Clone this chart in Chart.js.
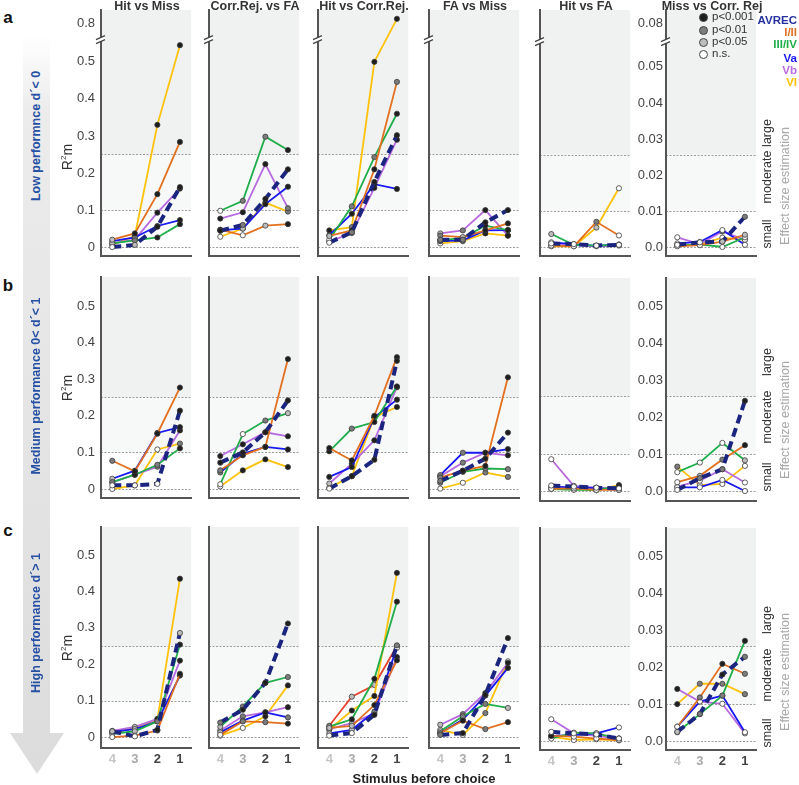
<!DOCTYPE html>
<html lang="en">
<head>
  <meta charset="UTF-8" />
  <title>R2m before choice by performance</title>
  <script src="https://cdn.jsdelivr.net/npm/chart.js"></script>
  <style>
    body { margin: 0; background: #fff; font-family: 'Liberation Sans', Arial, sans-serif; color: #333; }
    #fig { position: relative; width: 799px; height: 785px; overflow: hidden; }
    #fig canvas { position: absolute; }
    .lbl { position: absolute; white-space: nowrap; line-height: 1; }
  </style>
</head>
<body>
  <div id="fig">
    <svg width="70" height="785" style="position:absolute;left:0;top:0">
      <defs>
        <linearGradient id="arrowFill" x1="0" y1="0" x2="0" y2="1">
          <stop offset="0" stop-color="#ffffff" />
          <stop offset="0.1" stop-color="#ececec" />
          <stop offset="1" stop-color="#dcdcdc" />
        </linearGradient>
      </defs>
      <path d="M23 35 H50 V733 H64 L37 774 L10 733 H23 Z" fill="url(#arrowFill)" />
    </svg>
  </div>

  <script>
    // ---- data ----
    const stimuli = ['4', '3', '2', '1'];
    const stimulusColors = ['#c6c6c6', '#a9a9a9', '#444444', '#444444'];
    const seriesNames = ['AVREC', 'I/II', 'III/IV', 'Va', 'Vb', 'VI', 'I/II'];
    const seriesColors = ['#1b2580', '#e2701f', '#1fae4a', '#1818f0', '#b86ae0', '#ffc20a', '#e8432b'];
    const panelTitles = ['Hit vs Miss', 'Corr.Rej. vs FA', 'Hit vs Corr.Rej.', 'FA vs Miss', 'Hit vs FA', 'Miss vs Corr. Rej'];
    const rowLetters = ['a', 'b', 'c'];
    const rowNames = ['Low performnce d\u00b4< 0', 'Medium performance 0< d\u00b4< 1', 'High performance d\u00b4> 1'];
    const leftTicks = [0, 0.1, 0.2, 0.3, 0.4, 0.5];
    const rightTicks = [0, 0.01, 0.02, 0.03, 0.04, 0.05];
    const leftTopTick = 0.8;
    const rightTopTick = 0.08;
    const leftThresholds = [0, 0.1, 0.25];
    const rightThresholds = [0, 0.01, 0.0256];
    const pLabels = ['p<0.001', 'p<0.01', 'p<0.05', 'n.s.'];
    const pFills = ['#1e1e1e', '#7c7c7c', '#bdbdbd', '#ffffff'];

    // values: rows = AVREC, I/II, III/IV, Va, Vb, VI ; columns = stimulus 4,3,2,1
    // p codes: 0 p<0.001, 1 p<0.01, 2 p<0.05, 3 n.s.

    // a: low performance
    const lowHitMiss = [[0.0, 0.006, 0.055, 0.162], [0.02, 0.037, 0.143, 0.284], [0.01, 0.018, 0.026, 0.062],
      [0.016, 0.026, 0.057, 0.073], [0.01, 0.02, 0.093, 0.158], [0.006, 0.03, 0.33, 0.545]];
    const lowHitMissP = [[3, 2, 0, 0], [2, 0, 0, 0], [2, 1, 0, 0], [2, 1, 0, 0], [3, 1, 0, 0], [3, 0, 0, 0]];
    const lowCrFa = [[0.044, 0.06, 0.13, 0.21], [0.047, 0.032, 0.058, 0.062], [0.098, 0.125, 0.298, 0.262],
      [0.046, 0.05, 0.116, 0.163], [0.077, 0.094, 0.224, 0.105], [0.028, 0.05, 0.12, 0.096]];
    const lowCrFaP = [[0, 1, 0, 0], [0, 3, 2, 0], [3, 1, 1, 0], [1, 2, 0, 0], [0, 0, 0, 1], [3, 0, 0, 1]];
    const lowHitCr = [[0.012, 0.04, 0.176, 0.302], [0.03, 0.045, 0.21, 0.446], [0.02, 0.11, 0.243, 0.36],
      [0.032, 0.09, 0.17, 0.157], [0.015, 0.038, 0.16, 0.29], [0.045, 0.054, 0.50, 0.86]];
    const lowHitCrP = [[3, 1, 0, 0], [2, 0, 0, 1], [3, 1, 1, 0], [1, 0, 0, 0], [3, 1, 0, 0], [0, 1, 0, 0]];
    const lowFaMiss = [[0.02, 0.02, 0.067, 0.10], [0.031, 0.027, 0.045, 0.064], [0.018, 0.025, 0.058, 0.046],
      [0.016, 0.018, 0.045, 0.046], [0.037, 0.045, 0.10, 0.031], [0.01, 0.016, 0.037, 0.031]];
    const lowFaMissP = [[1, 1, 0, 0], [1, 2, 0, 0], [1, 1, 0, 0], [1, 2, 0, 0], [2, 1, 0, 0], [3, 2, 0, 0]];
    const lowHitFa = [[0.001, 0.0008, 0.0004, 0.0006], [0.0004, 0.0002, 0.007, 0.0032], [0.0036, 0.0006, 0.0004, 0.0006],
      [0.0013, 0.0008, 0.0003, 0.0007], [0.0006, 0.0005, 0.0002, 0.0004], [0.0002, 0.0002, 0.0054, 0.0163]];
    const lowHitFaP = [[3, 3, 3, 3], [3, 3, 1, 3], [2, 3, 3, 3], [3, 3, 3, 3], [3, 3, 3, 3], [3, 3, 2, 3]];
    const lowMissCr = [[0.0006, 0.0013, 0.0015, 0.0084], [0.0002, 0.0005, 0.0015, 0.0034], [0.0004, 0.0007, 0.0, 0.0027],
      [0.001, 0.0014, 0.0047, 0.0006], [0.0027, 0.0008, 0.0043, 0.002], [0.0004, 0.0007, 0.0026, 0.002]];
    const lowMissCrP = [[3, 3, 2, 1], [3, 3, 3, 2], [3, 3, 3, 3], [3, 3, 3, 3], [3, 3, 1, 3], [3, 3, 3, 3]];

    // b: medium performance
    const midHitMiss = [[0.01, 0.01, 0.014, 0.214], [0.077, 0.048, 0.151, 0.277], [0.019, 0.039, 0.066, 0.111],
      [0.028, 0.05, 0.153, 0.169], [0.018, 0.039, 0.061, 0.16], [0.0, 0.01, 0.108, 0.124]];
    const midHitMissP = [[3, 3, 3, 0], [1, 0, 0, 0], [1, 0, 1, 0], [2, 0, 0, 0], [2, 0, 1, 0], [3, 3, 3, 1]];
    const midCrFa = [[0.072, 0.10, 0.155, 0.242], [0.051, 0.092, 0.115, 0.355], [0.013, 0.15, 0.187, 0.207],
      [0.045, 0.096, 0.115, 0.108], [0.09, 0.122, 0.155, 0.144], [0.007, 0.051, 0.081, 0.06]];
    const midCrFaP = [[0, 0, 0, 0], [1, 0, 0, 0], [3, 3, 1, 2], [1, 0, 0, 0], [0, 0, 0, 0], [3, 0, 0, 0]];
    const midHitCr = [[0.001, 0.035, 0.08, 0.35], [0.112, 0.078, 0.20, 0.36], [0.103, 0.165, 0.183, 0.28],
      [0.033, 0.06, 0.196, 0.244], [0.015, 0.069, 0.133, 0.278], [0.003, 0.035, 0.196, 0.224]];
    const midHitCrP = [[3, 0, 0, 0], [0, 0, 0, 0], [0, 1, 0, 0], [0, 0, 0, 0], [2, 0, 0, 0], [3, 0, 0, 0]];
    const midFaMiss = [[0.022, 0.05, 0.083, 0.154], [0.031, 0.05, 0.063, 0.305], [0.017, 0.047, 0.056, 0.054],
      [0.038, 0.099, 0.099, 0.109], [0.035, 0.072, 0.099, 0.092], [0.001, 0.017, 0.045, 0.033]];
    const midFaMissP = [[1, 0, 0, 0], [1, 0, 0, 0], [1, 0, 1, 1], [1, 1, 0, 0], [1, 1, 0, 0], [3, 3, 1, 1]];
    const midHitFa = [[0.0015, 0.0012, 0.0009, 0.0007], [0.0006, 0.0007, 0.0003, 0.0003], [0.0005, 0.0003, 0.0003, 0.0012],
      [0.0012, 0.001, 0.0008, 0.0005], [0.0086, 0.0014, 0.0009, 0.0003], [0.0008, 0.0006, 0.0002, 0.0016]];
    const midHitFaP = [[3, 3, 3, 3], [3, 3, 3, 3], [3, 3, 3, 0], [3, 3, 3, 3], [3, 3, 3, 3], [3, 3, 3, 0]];
    const midMissCr = [[0.0003, 0.0035, 0.0059, 0.0244], [0.0024, 0.0041, 0.0085, 0.0124], [0.0051, 0.0077, 0.013, 0.0083],
      [0.001, 0.001, 0.003, 0.0], [0.0012, 0.0028, 0.0059, 0.0023], [0.0066, 0.0016, 0.0019, 0.0068]];
    const midMissCrP = [[3, 1, 1, 0], [3, 2, 1, 0], [3, 3, 3, 2], [3, 3, 3, 3], [3, 3, 3, 3], [1, 3, 3, 3]];

    // c: high performance (Hit vs Corr.Rej. has an extra red trace)
    const highHitMiss = [[0.016, 0.002, 0.02, 0.286], [0.0, 0.004, 0.018, 0.174], [0.009, 0.016, 0.043, 0.254],
      [0.014, 0.022, 0.043, 0.169], [0.017, 0.028, 0.05, 0.21], [0.011, 0.025, 0.048, 0.435]];
    const highHitMissP = [[2, 3, 0, 2], [3, 3, 1, 0], [2, 2, 1, 0], [2, 2, 0, 0], [2, 2, 0, 0], [3, 2, 0, 0]];
    const highCrFa = [[0.04, 0.075, 0.149, 0.312], [0.006, 0.043, 0.041, 0.037], [0.028, 0.084, 0.149, 0.165],
      [0.013, 0.045, 0.068, 0.054], [0.018, 0.057, 0.068, 0.082], [0.004, 0.025, 0.057, 0.142]];
    const highCrFaP = [[1, 0, 0, 0], [3, 1, 1, 0], [2, 1, 0, 1], [2, 1, 0, 1], [2, 1, 0, 0], [3, 3, 0, 0]];
    const highHitCr = [[0.004, 0.011, 0.061, 0.252], [0.025, 0.031, 0.088, 0.211], [0.029, 0.049, 0.16, 0.372],
      [0.01, 0.02, 0.07, 0.245], [0.022, 0.038, 0.065, 0.22], [0.02, 0.073, 0.113, 0.451], [0.031, 0.111, 0.143, 0.25]];
    const highHitCrP = [[3, 3, 0, 1], [2, 2, 0, 0], [2, 0, 0, 0], [2, 2, 1, 3], [2, 2, 0, 0], [2, 0, 0, 0], [2, 2, 2, 2]];
    const highFaMiss = [[0.006, 0.011, 0.116, 0.272], [0.011, 0.045, 0.022, 0.041], [0.016, 0.057, 0.091, 0.08],
      [0.011, 0.048, 0.114, 0.19], [0.034, 0.063, 0.121, 0.204], [0.02, 0.006, 0.066, 0.208]];
    const highFaMissP = [[1, 0, 0, 0], [1, 0, 1, 0], [2, 1, 1, 2], [2, 1, 0, 0], [2, 1, 0, 0], [3, 3, 1, 3]];
    const highHitFa = [[0.0025, 0.0021, 0.0018, 0.0007], [0.0014, 0.0012, 0.0007, 0.0003], [0.0007, 0.0023, 0.0021, 0.0007],
      [0.0014, 0.0016, 0.0021, 0.0037], [0.0059, 0.0021, 0.0014, 0.0007], [0.0012, 0.0003, 0.0005, 0.0002]];
    const highHitFaP = [[3, 3, 3, 3], [0, 3, 3, 3], [3, 3, 3, 3], [3, 3, 3, 3], [3, 3, 3, 3], [3, 3, 3, 3]];
    const highMissCr = [[0.0025, 0.0073, 0.018, 0.0228], [0.0039, 0.0118, 0.0209, 0.0182], [0.0024, 0.0073, 0.0123, 0.0271],
      [0.0039, 0.0107, 0.0123, 0.0024], [0.0141, 0.0107, 0.0101, 0.0021], [0.01, 0.0155, 0.0155, 0.0127]];
    const highMissCrP = [[2, 1, 0, 1], [3, 1, 0, 1], [3, 3, 1, 0], [3, 3, 3, 3], [0, 3, 3, 3], [0, 1, 1, 1]];

    const panelValues = [
      [lowHitMiss, lowCrFa, lowHitCr, lowFaMiss, lowHitFa, lowMissCr],
      [midHitMiss, midCrFa, midHitCr, midFaMiss, midHitFa, midMissCr],
      [highHitMiss, highCrFa, highHitCr, highFaMiss, highHitFa, highMissCr]
    ];
    const panelP = [
      [lowHitMissP, lowCrFaP, lowHitCrP, lowFaMissP, lowHitFaP, lowMissCrP],
      [midHitMissP, midCrFaP, midHitCrP, midFaMissP, midHitFaP, midMissCrP],
      [highHitMissP, highCrFaP, highHitCrP, highFaMissP, highHitFaP, highMissCrP]
    ];

    // ---- layout ----
    const FONT = "'Liberation Sans', Arial, sans-serif";
    Chart.defaults.font.family = FONT;
    const colX = [101, 209, 318, 429, 540, 666];
    const PW = 92, YW = 50, XH = 26, PT = 16, PR = 3;
    const rowGeom = [
      { left: { top: 10, bottom: 256, min: -0.024, max: 0.64, brk: 0.56, squeeze: 0.1875 },
        right: { top: 10, bottom: 256, min: -0.0025, max: 0.0658, brk: 0.057, squeeze: 0.22 } },
      { left: { top: 277, bottom: 498, min: -0.0246, max: 0.579 },
        right: { top: 278, bottom: 501, min: -0.0027, max: 0.0576 } },
      { left: { top: 527, bottom: 748, min: -0.030, max: 0.577 },
        right: { top: 528, bottom: 750, min: -0.0024, max: 0.0576 } }
    ];

    // linear scale with a compressed segment above the axis break
    class BrokenScale extends Chart.LinearScale {
      static id = 'broken';
      static defaults = Chart.LinearScale.defaults;
      fwd(v) {
        const b = this.options.brk;
        return (b == null || v <= b) ? v : b + (v - b) * this.options.squeeze;
      }
      getPixelForValue(v) {
        return super.getPixelForValue(this.fwd(v));
      }
    }
    Chart.register(BrokenScale);

    const fig = document.getElementById('fig');

    function addText(text, x, y, css, rotate) {
      const d = document.createElement('div');
      d.className = 'lbl';
      d.innerHTML = text;
      d.style.cssText += `left:${x}px;top:${y}px;` + css;
      d.style.transform = 'translate(-50%,-50%)' + (rotate ? ' rotate(-90deg)' : '');
      fig.appendChild(d);
      return d;
    }

    function makePanel(row, col) {
      const isRight = col >= 4;
      const g = isRight ? rowGeom[row].right : rowGeom[row].left;
      const showY = col === 0 || col === 5;
      const showX = row === 2;
      const thr = isRight ? rightThresholds : leftThresholds;
      let ticks = (isRight ? rightTicks : leftTicks).slice();
      if (g.brk != null) ticks.push(isRight ? rightTopTick : leftTopTick);

      const canvas = document.createElement('canvas');
      const w = YW + PW + PR;
      const h = PT + (g.bottom - g.top) + XH;
      canvas.width = w;
      canvas.height = h;
      canvas.style.left = (colX[col] - YW) + 'px';
      canvas.style.top = (g.top - PT) + 'px';
      canvas.style.width = w + 'px';
      canvas.style.height = h + 'px';
      fig.appendChild(canvas);

      const vals = panelValues[row][col];
      const ps = panelP[row][col];
      const datasets = vals.map((v, i) => ({
        label: seriesNames[i],
        data: v,
        borderColor: seriesColors[i],
        borderWidth: i === 0 ? 4 : 1.8,
        borderDash: i === 0 ? [9, 5] : [],
        pointRadius: 2.6,
        pointBackgroundColor: ps[i].map(c => pFills[c]),
        pointBorderColor: '#3a3a3a',
        pointBorderWidth: 0.8,
        tension: 0,
        fill: false
      }));

      const bands = {
        id: 'bands',
        beforeDraw(chart) {
          const { ctx, chartArea: a, scales: { y } } = chart;
          const ySmall = y.getPixelForValue(thr[1]);
          const yLarge = y.getPixelForValue(thr[2]);
          ctx.save();
          ctx.fillStyle = '#f0f1f1';
          ctx.fillRect(a.left, a.top, a.width, yLarge - a.top);
          ctx.fillStyle = '#f7f8f8';
          ctx.fillRect(a.left, yLarge, a.width, ySmall - yLarge);
          ctx.strokeStyle = '#9c9c9c';
          ctx.lineWidth = 1;
          ctx.setLineDash([2, 1.5]);
          thr.forEach(t => {
            const py = Math.round(y.getPixelForValue(t)) + 0.5;
            ctx.beginPath();
            ctx.moveTo(a.left, py);
            ctx.lineTo(a.right, py);
            ctx.stroke();
          });
          ctx.restore();
        },
        afterDraw(chart) {
          if (g.brk == null) return;
          const { ctx, chartArea: a, scales: { y } } = chart;
          const by = y.getPixelForValue(g.brk) - 1;
          const l = a.left;
          ctx.save();
          ctx.fillStyle = '#fff';
          ctx.beginPath();
          ctx.moveTo(l - 5, by + 1); ctx.lineTo(l + 4, by - 3);
          ctx.lineTo(l + 4, by + 1); ctx.lineTo(l - 5, by + 5);
          ctx.closePath();
          ctx.fill();
          ctx.strokeStyle = '#444';
          ctx.lineWidth = 1.3;
          ctx.beginPath();
          ctx.moveTo(l - 5, by + 1); ctx.lineTo(l + 4, by - 3);
          ctx.moveTo(l - 5, by + 5); ctx.lineTo(l + 4, by + 1);
          ctx.stroke();
          ctx.restore();
        }
      };

      new Chart(canvas.getContext('2d'), {
        type: 'line',
        data: { labels: stimuli, datasets: datasets },
        options: {
          responsive: false,
          animation: false,
          devicePixelRatio: 1,
          events: [],
          layout: { padding: { top: PT, right: PR, left: 0, bottom: 0 } },
          plugins: { legend: { display: false }, tooltip: { enabled: false } },
          scales: {
            x: {
              type: 'category',
              offset: true,
              grid: { display: false, drawTicks: false, tickLength: 0 },
              border: { display: true, color: '#555', width: 2 },
              ticks: {
                display: showX, autoSkip: false, maxRotation: 0, padding: 4,
                color: ctx => stimulusColors[ctx.index],
                font: { size: 13, weight: 'bold' }
              },
              afterFit: s => { s.height = XH; s.paddingLeft = 0; s.paddingRight = 0; }
            },
            y: {
              type: 'broken',
              min: g.min,
              max: g.max,
              brk: g.brk,
              squeeze: g.squeeze,
              grid: { display: false, drawTicks: false, tickLength: 0 },
              border: { display: true, color: '#555', width: 2 },
              ticks: {
                display: showY, autoSkip: false, padding: col === 0 ? 6 : 3,
                color: '#444', font: { size: 13 },
                callback: v => v === 0 ? (isRight ? '0.0' : '0') : (isRight ? v.toFixed(2) : v.toFixed(1))
              },
              afterBuildTicks: s => { s.ticks = ticks.map(v => ({ value: v })); },
              afterFit: s => { s.width = YW; s.paddingTop = 0; s.paddingBottom = 0; }
            }
          }
        },
        plugins: [bands]
      });
    }

    for (let r = 0; r < 3; r++) {
      for (let c = 0; c < 6; c++) makePanel(r, c);
    }

    // ---- text ----
    panelTitles.forEach((t, c) => addText(t, colX[c] + PW / 2, 6, 'font-weight:bold;font-size:12.5px;color:#333;'));

    const letterY = [17, 285, 530];
    rowLetters.forEach((t, r) => addText(t, 8, letterY[r], 'font-weight:bold;font-size:17px;color:#111;'));

    const rowNameY = [136, 386, 623];
    rowNames.forEach((t, r) => addText(t, 36, rowNameY[r], 'font-weight:bold;font-size:12.5px;color:#2550a4;', true));

    const r2Y = [157, 388, 648];
    r2Y.forEach(y => addText('R<sup style="font-size:8px">2</sup>m', 67, y, 'font-size:14px;color:#333;', true));

    const effY = [
      { large: 133, moderate: 177, small: 234, est: 186 },
      { large: 362, moderate: 417, small: 477, est: 420 },
      { large: 620, moderate: 675, small: 733, est: 672 }
    ];
    effY.forEach(e => {
      ['small', 'moderate', 'large'].forEach(k => addText(k, 767, e[k], 'font-size:12.5px;color:#333;', true));
      addText('Effect size estimation', 785, e.est, 'font-size:12.5px;color:#a8a8a8;', true);
    });

    addText('Stimulus before choice', 424, 778, 'font-weight:bold;font-size:13px;color:#222;');

    // significance legend
    const pY = [17, 30, 42, 54];
    pLabels.forEach((t, i) => {
      const dot = document.createElement('div');
      dot.style.cssText = `position:absolute;left:699px;top:${pY[i] - 4}px;width:7px;height:7px;border-radius:50%;` +
        `background:${pFills[i]};border:1px solid #444;`;
      fig.appendChild(dot);
      const d = addText(t, 712, pY[i], 'font-size:11.5px;color:#333;');
      d.style.transform = 'translate(0,-50%)';
    });

    // layer legend
    const layerY = [21, 33, 45, 59, 71, 83];
    seriesNames.slice(0, 6).forEach((t, i) => {
      const d = addText(t, 797, layerY[i], `font-weight:bold;font-size:11.5px;color:${i === 0 ? '#25319e' : seriesColors[i]};`);
      d.style.transform = 'translate(-100%,-50%)';
    });
  </script>
</body>
</html>
